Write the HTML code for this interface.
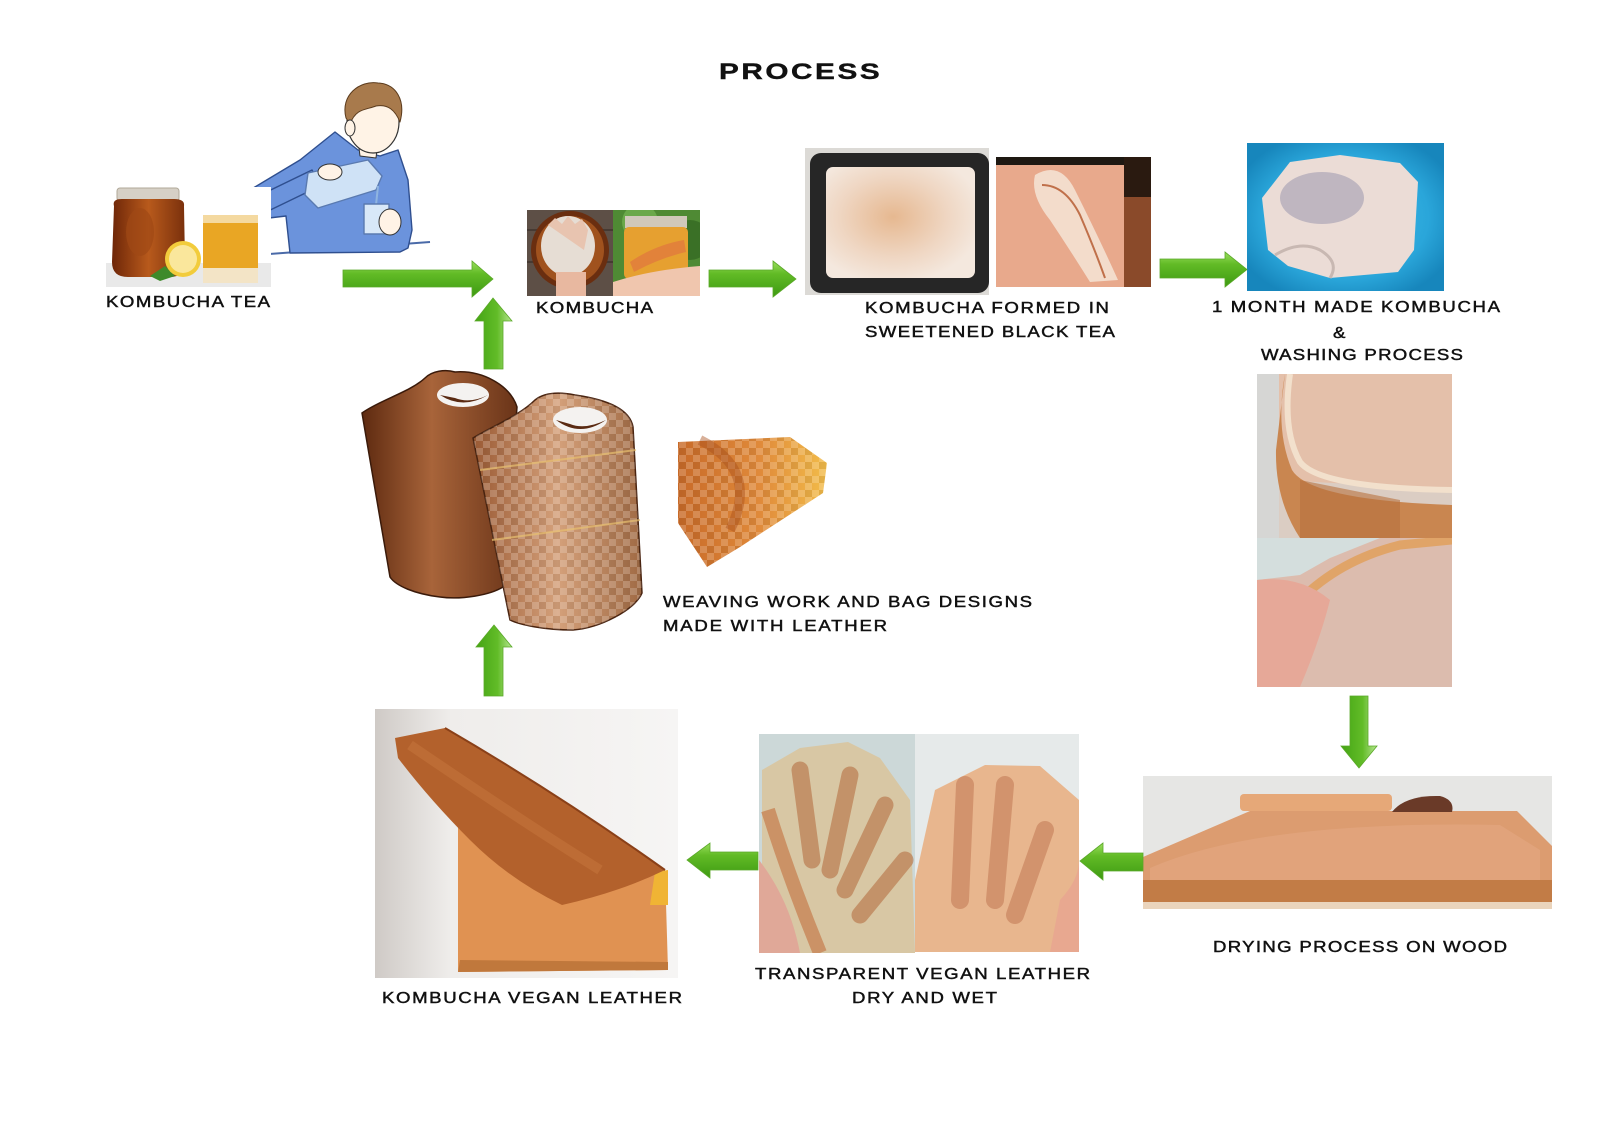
<!DOCTYPE html>
<html><head><meta charset="utf-8"><style>
html,body{margin:0;padding:0;background:#fff;}
svg{display:block;}
text{font-family:"Liberation Sans",sans-serif;fill:#111;}
.lb{font-size:15.5px;stroke:#111;stroke-width:0.45;}
</style></head><body>
<svg width="1600" height="1131" viewBox="0 0 1600 1131" xmlns="http://www.w3.org/2000/svg">
<defs>
<linearGradient id="gh" x1="0" y1="0" x2="0" y2="1">
<stop offset="0" stop-color="#9ade5e"/><stop offset="0.35" stop-color="#62bb26"/><stop offset="1" stop-color="#3d9a12"/></linearGradient>
<linearGradient id="gv" x1="0" y1="0" x2="1" y2="0">
<stop offset="0" stop-color="#44a414"/><stop offset="0.6" stop-color="#62bc28"/><stop offset="1" stop-color="#b6e690"/></linearGradient>
<linearGradient id="jar" x1="0" y1="0" x2="1" y2="0">
<stop offset="0" stop-color="#6e2608"/><stop offset="0.5" stop-color="#b85a1c"/><stop offset="1" stop-color="#7a300c"/></linearGradient>
<linearGradient id="bag1" x1="0" y1="0" x2="1" y2="0">
<stop offset="0" stop-color="#5e2a10"/><stop offset="0.45" stop-color="#a8643a"/><stop offset="1" stop-color="#6a3418"/></linearGradient>
<linearGradient id="bag2" x1="0" y1="0" x2="1" y2="0">
<stop offset="0" stop-color="#9a5a34"/><stop offset="0.5" stop-color="#d4a07a"/><stop offset="1" stop-color="#a06a44"/></linearGradient>
<linearGradient id="weave" x1="0" y1="0" x2="1" y2="0">
<stop offset="0" stop-color="#c86a28"/><stop offset="0.55" stop-color="#e08a3a"/><stop offset="1" stop-color="#f2bc4a"/></linearGradient>
<pattern id="chk" width="14" height="14" patternUnits="userSpaceOnUse">
<rect width="7" height="7" fill="#fff" opacity="0.18"/><rect x="7" y="7" width="7" height="7" fill="#fff" opacity="0.18"/>
<rect x="7" y="0" width="7" height="7" fill="#000" opacity="0.06"/></pattern>
<radialGradient id="tray" cx="0.45" cy="0.45" r="0.6">
<stop offset="0" stop-color="#e6b890"/><stop offset="0.6" stop-color="#efd6c2"/><stop offset="1" stop-color="#f4e8de"/></radialGradient>
<radialGradient id="blue" cx="0.5" cy="0.5" r="0.6">
<stop offset="0" stop-color="#40bce8"/><stop offset="0.7" stop-color="#2aa6da"/><stop offset="1" stop-color="#1786bc"/></radialGradient>
<linearGradient id="vbg" x1="0" y1="0" x2="1" y2="0">
<stop offset="0" stop-color="#cfcac6"/><stop offset="0.25" stop-color="#efedeb"/><stop offset="1" stop-color="#f6f5f4"/></linearGradient>
<clipPath id="c1"><rect x="527" y="210" width="86" height="86"/></clipPath>
<clipPath id="c2"><rect x="613" y="210" width="87" height="86"/></clipPath>
<clipPath id="c3"><rect x="996" y="157" width="155" height="130"/></clipPath>
<clipPath id="c4"><rect x="1247" y="143" width="197" height="148"/></clipPath>
<clipPath id="c5"><rect x="1257" y="374" width="195" height="164"/></clipPath>
<clipPath id="c6"><rect x="1257" y="538" width="195" height="149"/></clipPath>
<clipPath id="c7"><rect x="1143" y="776" width="409" height="133"/></clipPath>
<clipPath id="c8"><rect x="759" y="734" width="156" height="219"/></clipPath>
<clipPath id="c9"><rect x="915" y="734" width="164" height="218"/></clipPath>
<clipPath id="c10"><rect x="375" y="709" width="303" height="269"/></clipPath>
</defs>

<!-- Title -->
<text transform="translate(719,79) scale(1.35,1)" x="0" y="0" font-size="22" font-weight="bold" textLength="119" lengthAdjust="spacing" style="stroke:#111;stroke-width:0.4">PROCESS</text>

<!-- Man illustration -->
<g stroke="#2f4f8f" stroke-width="1.4" stroke-linejoin="round">
<line x1="256" y1="255" x2="430" y2="242" stroke="#4a6aa8" stroke-width="2"/>
<polygon points="290,253 286,216 252,220 240,206 250,190 300,160 335,132 358,150 380,156 398,150 408,180 412,230 408,248 400,252" fill="#6b93dc"/>
<polygon points="250,200 312,170 320,186 262,214" fill="#6b93dc"/>
<polygon points="308,173 368,160 382,176 376,190 318,208 305,195" fill="#cfe2f6" stroke="#5a7ab0"/>
<ellipse cx="330" cy="172" rx="12" ry="8" fill="#fff3e6" stroke="#333" stroke-width="1"/>
<line x1="378" y1="186" x2="376" y2="205" stroke="#8fb4e0" stroke-width="2"/>
<rect x="364" y="204" width="25" height="30" fill="#d8e8f8" stroke="#5a7ab0"/>
<ellipse cx="390" cy="222" rx="11" ry="13" fill="#fff3e6" stroke="#333" stroke-width="1"/>
<polygon points="358,140 378,140 376,158 360,156" fill="#fff3e6" stroke="#333" stroke-width="1"/>
<ellipse cx="373" cy="122" rx="26" ry="31" fill="#fff3e6" stroke="#333" stroke-width="1.2"/>
<path d="M346,118 C340,95 360,80 378,83 C396,84 406,100 400,122 C395,110 388,104 376,106 C366,110 356,108 350,124 Z" fill="#a87a4c" stroke="#5a3a1c" stroke-width="1"/>
<ellipse cx="350" cy="128" rx="5" ry="8" fill="#fff3e6" stroke="#333" stroke-width="1"/>
</g>

<!-- Kombucha tea photo -->
<rect x="106" y="187" width="165" height="100" fill="#fff"/>
<rect x="106" y="263" width="165" height="24" fill="#e9e9e9"/>
<rect x="117" y="188" width="62" height="13" rx="3" fill="#d6d0c6" stroke="#b0a898"/>
<path d="M114,206 Q112,199 122,199 H174 Q185,199 184,206 L185,262 Q185,277 170,277 H128 Q112,277 112,262 Z" fill="url(#jar)"/>
<ellipse cx="140" cy="232" rx="14" ry="24" fill="#a04816" opacity="0.7"/>
<rect x="203" y="215" width="55" height="68" rx="3" fill="#e9a624"/>
<rect x="203" y="215" width="55" height="8" fill="#f4d9a0"/>
<rect x="203" y="268" width="55" height="15" fill="#f3e4c6"/>
<polygon points="150,276 165,266 175,276 160,281" fill="#3e8a2a"/>
<circle cx="183" cy="259" r="18" fill="#f2cc3c"/>
<circle cx="183" cy="259" r="14" fill="#fae79c"/>

<!-- Kombucha photos -->
<g clip-path="url(#c1)">
<rect x="527" y="210" width="86" height="86" fill="#5d4f46"/>
<line x1="527" y1="230" x2="613" y2="230" stroke="#463a33" stroke-width="2"/>
<line x1="527" y1="262" x2="613" y2="262" stroke="#463a33" stroke-width="2"/>
<circle cx="570" cy="250" r="39" fill="#6a2e10"/>
<circle cx="570" cy="250" r="34" fill="#a0521e"/>
<ellipse cx="568" cy="246" rx="27" ry="30" fill="#e6ddd4"/>
<path d="M548,225 L555,218 L562,224 L568,216 L575,224 L582,219 L588,230 L584,250 Z" fill="#e8c4b0"/>
<rect x="556" y="272" width="30" height="26" fill="#e8b8a0"/>
</g>
<g clip-path="url(#c2)">
<rect x="613" y="210" width="87" height="86" fill="#4f8a34"/>
<circle cx="640" cy="222" r="18" fill="#6aa84a"/>
<circle cx="690" cy="240" r="20" fill="#3a7026"/>
<rect x="625" y="216" width="62" height="12" fill="#d0c8ba"/>
<rect x="624" y="227" width="64" height="52" rx="5" fill="#e6a030"/>
<path d="M630,262 Q655,245 684,240 L686,252 Q660,258 634,272 Z" fill="#e2823a"/>
<path d="M613,282 Q650,270 700,266 L700,296 L613,296 Z" fill="#f0c6ae"/>
</g>

<!-- Tray photo -->
<rect x="805" y="148" width="184" height="147" fill="#dcdad6"/>
<rect x="810" y="153" width="179" height="140" rx="11" fill="#262626"/>
<rect x="826" y="167" width="149" height="111" rx="7" fill="url(#tray)"/>
<!-- Pink photo -->
<g clip-path="url(#c3)">
<rect x="996" y="157" width="155" height="130" fill="#e8a98c"/>
<rect x="996" y="157" width="155" height="8" fill="#1e1812"/>
<rect x="1124" y="157" width="27" height="130" fill="#8a4a2a"/>
<rect x="1124" y="157" width="27" height="40" fill="#2a1a10"/>
<path d="M1035,175 Q1060,160 1075,190 Q1100,240 1118,280 L1090,282 Q1070,250 1050,220 Q1030,195 1035,175 Z" fill="#f3dccb"/>
<path d="M1042,185 Q1065,185 1080,215 Q1095,250 1105,278" stroke="#c0704a" stroke-width="2" fill="none"/>
</g>

<!-- Blue photo -->
<g clip-path="url(#c4)">
<rect x="1247" y="143" width="197" height="148" fill="url(#blue)"/>
<polygon points="1262,198 1290,162 1340,155 1400,163 1418,182 1414,250 1398,272 1330,278 1288,266 1268,250" fill="#ebdcd6"/>
<ellipse cx="1322" cy="198" rx="42" ry="26" fill="#a8a2b4" opacity="0.65"/>
<path d="M1275,255 Q1300,240 1320,250 Q1340,262 1330,278" stroke="#c8b8b2" stroke-width="3" fill="none"/>
</g>

<!-- Stacked photos -->
<g clip-path="url(#c5)">
<rect x="1257" y="374" width="195" height="164" fill="#e4c0aa"/>
<rect x="1257" y="374" width="22" height="164" fill="#d6d6d4"/>
<path d="M1278,374 Q1262,430 1282,480 L1452,490 L1452,538 L1270,538 L1268,374 Z" fill="#d6d6d4" opacity="0.6"/>
<path d="M1285,374 Q1275,430 1292,470 Q1310,500 1452,505 L1452,538 L1300,538 Q1275,500 1276,450 Z" fill="#c98650"/>
<path d="M1290,374 Q1282,430 1300,462 Q1320,488 1452,490" stroke="#f2e0cc" stroke-width="6" fill="none"/>
<path d="M1300,480 L1400,500 L1400,538 L1300,538 Z" fill="#b8723e" opacity="0.6"/>
</g>
<g clip-path="url(#c6)">
<rect x="1257" y="538" width="195" height="149" fill="#dcbcae"/>
<polygon points="1257,538 1380,538 1330,558 1300,575 1257,580" fill="#d4dedd"/>
<path d="M1300,600 Q1340,560 1400,545 L1452,540" stroke="#e0a468" stroke-width="9" fill="none"/>
<path d="M1257,580 Q1300,575 1330,600 Q1320,640 1300,687 L1257,687 Z" fill="#e6a898"/>
</g>

<!-- Drying photo -->
<g clip-path="url(#c7)">
<rect x="1143" y="776" width="409" height="133" fill="#e6e6e4"/>
<polygon points="1143,857 1250,811 1517,811 1552,846 1552,909 1143,909" fill="#dc9c70"/>
<rect x="1240" y="794" width="152" height="17" rx="4" fill="#e6a878"/>
<path d="M1392,812 Q1405,795 1440,796 Q1455,800 1452,812 Z" fill="#6a3a28"/>
<path d="M1150,868 Q1260,820 1500,825 L1540,850 L1540,880 L1150,880 Z" fill="#e2a680" opacity="0.7"/>
<rect x="1143" y="880" width="409" height="22" fill="#c27c46"/>
<rect x="1143" y="902" width="409" height="7" fill="#ead4bc"/>
</g>

<!-- Transparent photos -->
<g clip-path="url(#c8)">
<rect x="759" y="734" width="156" height="219" fill="#ccd8d8"/>
<polygon points="762,770 800,748 848,742 880,758 910,800 915,953 790,953 762,900" fill="#d8c7a4"/>
<g stroke="#b8764a" stroke-width="17" stroke-linecap="round" opacity="0.65">
<line x1="800" y1="770" x2="812" y2="860"/>
<line x1="850" y1="775" x2="830" y2="870"/>
<line x1="885" y1="805" x2="845" y2="890"/>
<line x1="905" y1="860" x2="860" y2="915"/>
</g>
<path d="M759,860 Q790,900 800,953 L759,953 Z" fill="#e0a898"/>
<path d="M768,810 Q790,880 820,953" stroke="#c88456" stroke-width="14" fill="none" opacity="0.8"/>
</g>
<g clip-path="url(#c9)">
<rect x="915" y="734" width="164" height="218" fill="#e6eaea"/>
<polygon points="935,790 985,765 1040,766 1079,800 1079,952 915,952 915,880" fill="#e8b68e"/>
<g stroke="#c47c58" stroke-width="18" stroke-linecap="round" opacity="0.6">
<line x1="965" y1="785" x2="960" y2="900"/>
<line x1="1005" y1="785" x2="995" y2="900"/>
<line x1="1045" y1="830" x2="1015" y2="915"/>
</g>
<path d="M1060,900 Q1079,880 1079,860 L1079,952 L1050,952 Z" fill="#e8a890"/>
</g>

<!-- Kombucha vegan leather -->
<g clip-path="url(#c10)">
<rect x="375" y="709" width="303" height="269" fill="url(#vbg)"/>
<polygon points="458,822 540,830 665,870 668,970 458,972" fill="#e09252"/>
<path d="M458,972 L668,970 L668,962 L460,960 Z" fill="#c0783c"/>
<polygon points="655,872 668,870 668,905 650,905" fill="#f0b434"/>
<path d="M395,738 L445,728 Q560,795 665,870 Q620,892 562,905 Q510,880 470,840 Q430,800 398,758 Z" fill="#b3612c"/>
<path d="M445,728 Q560,795 665,870" stroke="#8a4018" stroke-width="2" fill="none"/>
<path d="M410,745 Q520,820 600,870" stroke="#c8783e" stroke-width="10" fill="none" opacity="0.5"/>
</g>

<!-- Bags -->
<path d="M362,413 C380,400 410,392 425,378 C432,371 445,369 455,372 C482,370 510,385 517,407 L503,587 C490,595 462,600 440,597 C415,594 396,586 390,577 Z" fill="url(#bag1)" stroke="#3a1a0a" stroke-width="1.5"/>
<ellipse cx="463" cy="395" rx="26" ry="12" fill="#f4f2f0"/>
<path d="M440,395 Q463,410 488,395 Q470,404 455,398 Z" fill="#5a2a12"/>
<path d="M473,438 C495,425 520,415 535,400 C545,392 560,392 575,395 C610,400 630,410 633,427 L642,593 C635,610 600,628 573,630 C545,630 520,625 510,620 Z" fill="url(#bag2)" stroke="#4a2410" stroke-width="1.5"/>
<path d="M473,438 C495,425 520,415 535,400 C545,392 560,392 575,395 C610,400 630,410 633,427 L642,593 C635,610 600,628 573,630 C545,630 520,625 510,620 Z" fill="url(#chk)"/>
<line x1="480" y1="470" x2="636" y2="450" stroke="#e8c070" stroke-width="2" opacity="0.7"/>
<line x1="492" y1="540" x2="640" y2="520" stroke="#e8c070" stroke-width="2" opacity="0.7"/>
<ellipse cx="580" cy="420" rx="27" ry="13" fill="#f4f2f0"/>
<path d="M556,420 Q580,438 606,420 Q585,430 570,424 Z" fill="#5a2a12"/>
<!-- Woven piece -->
<polygon points="678,442 790,437 827,463 823,493 740,547 707,567 678,523" fill="url(#weave)"/>
<polygon points="678,442 790,437 827,463 823,493 740,547 707,567 678,523" fill="url(#chk)"/>
<path d="M700,440 Q760,470 730,530" stroke="#a8501c" stroke-width="10" fill="none" opacity="0.45"/>

<!-- Arrows -->
<g stroke="#5aa828" stroke-width="0.8">
<path d="M343,270 H472 V261 L493,279 L472,297 V287 H343 Z" fill="url(#gh)"/>
<path d="M709,270 H773 V261 L796,279 L773,297 V287 H709 Z" fill="url(#gh)"/>
<path d="M1160,259 H1225 V252 L1247,269.5 L1225,287 V278 H1160 Z" fill="url(#gh)"/>
<path d="M1143,853 H1103 V843 L1080,861 L1103,880 V871 H1143 Z" fill="url(#gh)"/>
<path d="M758,852 H710 V843 L687,860 L710,878 V870 H758 Z" fill="url(#gh)"/>
<path d="M1350,696 H1368 V746 H1377 L1359,768 L1341,746 H1350 Z" fill="url(#gv)"/>
<path d="M484,369 V321 H475 L493,298 L512,321 H503 V369 Z" fill="url(#gv)"/>
<path d="M484,696 V647 H476 L494,625 L512,647 H503 V696 Z" fill="url(#gv)"/>
</g>

<!-- Labels (scaled 1.2 horizontally; textLength = width/1.2) -->
<text class="lb" transform="translate(106,307) scale(1.2,1)" textLength="136.7" lengthAdjust="spacing">KOMBUCHA TEA</text>
<text class="lb" transform="translate(536,313) scale(1.2,1)" textLength="97.5" lengthAdjust="spacing">KOMBUCHA</text>
<text class="lb" transform="translate(865,313) scale(1.2,1)" textLength="203.3" lengthAdjust="spacing">KOMBUCHA FORMED IN</text>
<text class="lb" transform="translate(865,337) scale(1.2,1)" textLength="208.3" lengthAdjust="spacing">SWEETENED BLACK TEA</text>
<text class="lb" transform="translate(1212,312) scale(1.2,1)" textLength="240" lengthAdjust="spacing">1 MONTH MADE KOMBUCHA</text>
<text class="lb" transform="translate(1333,338) scale(1.2,1)">&amp;</text>
<text class="lb" transform="translate(1261,360) scale(1.2,1)" textLength="168.3" lengthAdjust="spacing">WASHING PROCESS</text>
<text class="lb" transform="translate(663,607) scale(1.2,1)" textLength="307.5" lengthAdjust="spacing">WEAVING WORK AND BAG DESIGNS</text>
<text class="lb" transform="translate(663,631) scale(1.2,1)" textLength="186.7" lengthAdjust="spacing">MADE WITH LEATHER</text>
<text class="lb" transform="translate(1213,952) scale(1.2,1)" textLength="245" lengthAdjust="spacing">DRYING PROCESS ON WOOD</text>
<text class="lb" transform="translate(755,979) scale(1.2,1)" textLength="279.2" lengthAdjust="spacing">TRANSPARENT VEGAN LEATHER</text>
<text class="lb" transform="translate(852,1003) scale(1.2,1)" textLength="120.8" lengthAdjust="spacing">DRY AND WET</text>
<text class="lb" transform="translate(382,1003) scale(1.2,1)" textLength="250" lengthAdjust="spacing">KOMBUCHA VEGAN LEATHER</text>
</svg>
</body></html>
